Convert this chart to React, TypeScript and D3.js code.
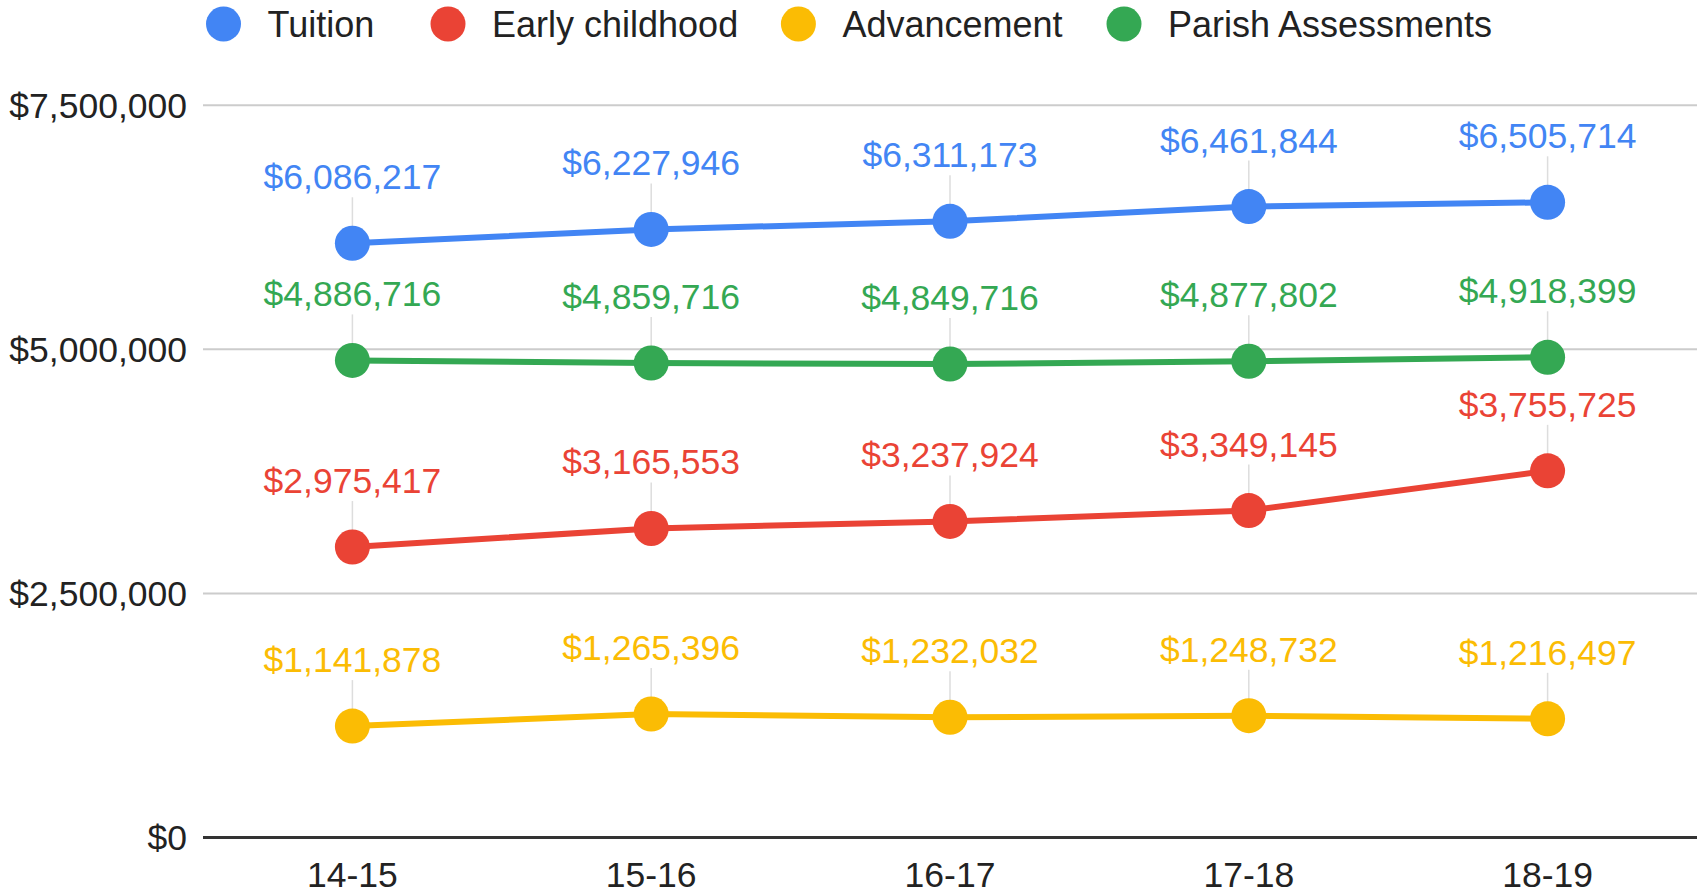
import React from "react";
import * as d3 from "d3";

const categories = ["14-15", "15-16", "16-17", "17-18", "18-19"];
const seriesNames = ["Tuition", "Early childhood", "Advancement", "Parish Assessments"];
const tuition = [6086217, 6227946, 6311173, 6461844, 6505714];
const earlyChildhood = [2975417, 3165553, 3237924, 3349145, 3755725];
const advancement = [1141878, 1265396, 1232032, 1248732, 1216497];
const parishAssessments = [4886716, 4859716, 4849716, 4877802, 4918399];
const seriesColors = ["#4285F4", "#EA4335", "#FBBC04", "#34A853"];
const yTicks = [0, 2500000, 5000000, 7500000];

const W = 1701;
const H = 894;
const FONT = "'Liberation Sans', Arial, sans-serif";
const FS = 35.5;

export default function App() {
  const series = [tuition, earlyChildhood, advancement, parishAssessments];
  const x = d3.scalePoint<string>().domain(categories).range([203, 1697]).padding(0.5);
  const y = d3.scaleLinear().domain([0, 7500000]).range([837.6, 105.2]);
  const fmt = (v: number) => "$" + d3.format(",")(v);
  const line = d3
    .line<number>()
    .x((_, i) => x(categories[i]) as number)
    .y((d) => y(d));

  const legendX = [223.5, 448, 798.4, 1124];

  return (
    <svg
      width={W}
      height={H}
      style={{ position: "absolute", left: 0, top: 0, background: "#fff" }}
      fontFamily={FONT}
    >
      {/* legend */}
      {seriesNames.map((n, i) => (
        <g key={n}>
          <circle cx={legendX[i]} cy={24} r={17.5} fill={seriesColors[i]} />
          <text x={legendX[i] + 44} y={24} dy="0.35em" fontSize={FS + 0.5} fill="#222">
            {n}
          </text>
        </g>
      ))}

      {/* gridlines */}
      {yTicks.map((t) => (
        <g key={t}>
          <line
            x1={203}
            x2={1697}
            y1={y(t)}
            y2={y(t)}
            stroke={t === 0 ? "#333" : "#ccc"}
            strokeWidth={t === 0 ? 3 : 2}
          />
          <text x={187} y={y(t)} dy="0.35em" textAnchor="end" fontSize={FS} fill="#222">
            {fmt(t)}
          </text>
        </g>
      ))}

      {/* x labels */}
      {categories.map((c) => (
        <text key={c} x={x(c)} y={875} dy="0.35em" textAnchor="middle" fontSize={FS} fill="#222">
          {c}
        </text>
      ))}

      {/* connectors */}
      {series.map((s, si) =>
        s.map((v, i) => (
          <line
            key={`c${si}-${i}`}
            x1={x(categories[i])}
            x2={x(categories[i])}
            y1={y(v) - 46}
            y2={y(v) - 15}
            stroke="#ddd"
            strokeWidth={1.5}
          />
        ))
      )}

      {/* lines */}
      {series.map((s, si) => (
        <path key={`l${si}`} d={line(s) || ""} fill="none" stroke={seriesColors[si]} strokeWidth={6} />
      ))}

      {/* markers */}
      {series.map((s, si) =>
        s.map((v, i) => (
          <circle key={`m${si}-${i}`} cx={x(categories[i])} cy={y(v)} r={17.5} fill={seriesColors[si]} />
        ))
      )}

      {/* value labels */}
      {series.map((s, si) =>
        s.map((v, i) => (
          <text
            key={`t${si}-${i}`}
            x={x(categories[i])}
            y={y(v) - 54}
            textAnchor="middle"
            fontSize={FS}
            fill={seriesColors[si]}
          >
            {fmt(v)}
          </text>
        ))
      )}
    </svg>
  );
}
